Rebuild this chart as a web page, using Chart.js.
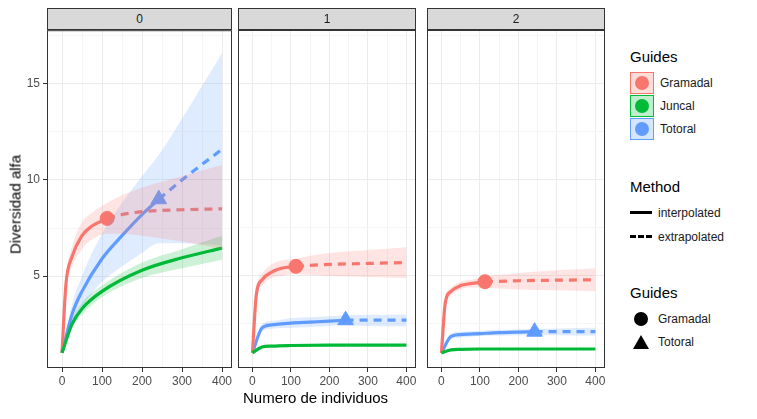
<!DOCTYPE html>
<html>
<head>
<meta charset="utf-8">
<script src="https://cdn.jsdelivr.net/npm/chart.js@4/dist/chart.umd.min.js"></script>
<style>
body{margin:0;background:#fff;font-family:"Liberation Sans",Arial,sans-serif;}
#wrap{position:relative;width:757px;height:419px;}
canvas{position:absolute;}
.strip{position:absolute;top:8px;height:22px;background:#d9d9d9;border:1px solid #333;box-sizing:border-box;
 font-size:12px;color:#1a1a1a;text-align:center;line-height:21px;}
.lab{position:absolute;color:#000;font-weight:normal;}
.leg{position:absolute;left:630px;font-size:12px;color:#1a1a1a;}
.leg h4{margin:0 0 6px 0;font-size:15px;font-weight:normal;color:#000;}
.row{height:23px;display:flex;align-items:center;}
.key{width:22px;height:20px;margin-right:6px;position:relative;}
</style>
</head>
<body>
<div id="wrap">
  <canvas id="p0" style="left:0;top:20px" width="242" height="370"></canvas>
  <canvas id="p1" style="left:228px;top:20px" width="198" height="370"></canvas>
  <canvas id="p2" style="left:417px;top:20px" width="198" height="370"></canvas>
  <div class="strip" style="left:47px;width:185px">0</div>
  <div class="strip" style="left:238px;width:178px">1</div>
  <div class="strip" style="left:427px;width:178px">2</div>
  <div class="lab" style="left:243px;top:389px;font-size:15px">Numero de individuos</div>
  <div class="lab" style="left:-45px;top:196px;font-size:15px;transform:rotate(-90deg);width:120px;text-align:center">Diversidad alfa</div>
  <div class="leg" style="top:48px">
    <h4>Guides</h4>
    <div class="row"><div class="key" style="background:rgba(248,118,109,0.25);border:1px solid #F8766D"><span style="position:absolute;left:4px;top:3px;width:14px;height:14px;border-radius:50%;background:#F8766D"></span></div>Gramadal</div>
    <div class="row"><div class="key" style="background:rgba(0,186,56,0.25);border:1px solid #00BA38"><span style="position:absolute;left:4px;top:3px;width:14px;height:14px;border-radius:50%;background:#00BA38"></span></div>Juncal</div>
    <div class="row"><div class="key" style="background:rgba(97,156,255,0.25);border:1px solid #619CFF"><span style="position:absolute;left:4px;top:3px;width:14px;height:14px;border-radius:50%;background:#619CFF"></span></div>Totoral</div>
  </div>
  <div class="leg" style="top:178px">
    <h4>Method</h4>
    <div class="row" style="height:24px"><div class="key"><span style="position:absolute;left:0;top:8px;width:22px;height:3px;background:#000"></span></div>interpolated</div>
    <div class="row" style="height:24px"><div class="key"><span style="position:absolute;left:0;top:8px;width:22px;height:3px;border-top:3px dashed #000;box-sizing:border-box"></span></div>extrapolated</div>
  </div>
  <div class="leg" style="top:284px">
    <h4>Guides</h4>
    <div class="row"><div class="key"><span style="position:absolute;left:4px;top:3px;width:14px;height:14px;border-radius:50%;background:#000"></span></div>Gramadal</div>
    <div class="row"><div class="key"><span style="position:absolute;left:3px;top:3px;width:0;height:0;border-left:8px solid transparent;border-right:8px solid transparent;border-bottom:14px solid #000"></span></div>Totoral</div>
  </div>
</div>
<script>
// sample sizes
var gramX = [0,10,25,50,75,113,150,200,300,400];   // index 5 = observed
var totoX = [0,25,50,100,150,200,242,300,400];     // index 6 = observed
var juncX = [0,25,50,100,200,300,400];
var gramObs = 5, totoObs = 6;

// estimates per panel
var gramY  = [[1,4.6,6.0,7.1,7.6,8.0,8.2,8.35,8.45,8.5],[1,4.0,4.8,5.2,5.4,5.5,5.55,5.6,5.65,5.7],[1,3.6,4.2,4.5,4.6,4.7,4.72,4.75,4.78,4.8]];
var gramLo = [[1,4.3,5.5,6.4,6.9,7.2,7.2,7.1,6.8,6.4],[1,3.8,4.5,4.9,5.0,5.1,5.05,5.0,4.95,4.9],[1,3.4,4.0,4.3,4.4,4.4,4.35,4.3,4.25,4.2]];
var gramHi = [[1,4.9,6.5,7.8,8.3,8.8,9.2,9.6,10.2,10.8],[1,4.2,5.1,5.6,5.8,5.9,6.05,6.2,6.35,6.5],[1,3.8,4.4,4.7,4.8,4.95,5.05,5.15,5.3,5.4]];
var totoY  = [[1,3.0,4.2,5.9,7.1,8.2,9.0,10.0,11.6],[1,2.3,2.45,2.55,2.6,2.65,2.7,2.7,2.7],[1,1.85,1.95,2.0,2.05,2.08,2.1,2.1,2.1]];
var totoLo = [[1,2.5,3.4,4.7,5.5,6.2,6.7,6.7,6.6],[1,2.1,2.25,2.3,2.35,2.4,2.42,2.4,2.38],[1,1.7,1.8,1.88,1.9,1.92,1.93,1.92,1.9]];
var totoHi = [[1,3.5,5.0,7.2,8.8,10.2,11.3,13.2,16.6],[1,2.5,2.65,2.8,2.85,2.9,2.95,2.98,3.0],[1,2.0,2.1,2.15,2.2,2.22,2.25,2.27,2.3]];
var juncY  = [[1,2.5,3.3,4.2,5.3,5.95,6.45],[1,1.3,1.35,1.38,1.4,1.4,1.4],[1,1.15,1.18,1.2,1.2,1.2,1.2]];
var juncLo = [[1,2.3,3.0,3.9,4.9,5.4,5.85],[1,1.25,1.3,1.33,1.35,1.35,1.35],[1,1.12,1.15,1.17,1.17,1.17,1.17]];
var juncHi = [[1,2.7,3.6,4.5,5.7,6.4,7.1],[1,1.35,1.4,1.43,1.45,1.45,1.45],[1,1.18,1.21,1.23,1.23,1.23,1.23]];

var xTicks = [0,100,200,300,400];
var yTicks = [5,10,15];

var RED = '#F8766D', GREEN = '#00BA38', BLUE = '#619CFF';

function pts(xs, ys, a, b){
  var out = [];
  for (var i = a; i <= b; i++) out.push({x: xs[i], y: ys[i]});
  return out;
}
function fade(c){ return c + '33'; }

function line(data, color, dashed){
  return {type:'line', data:data, borderColor:color, borderWidth:3.2, pointRadius:0, fill:false,
    borderDash: dashed ? [8,6] : [], cubicInterpolationMode:'monotone'};
}
function band(xs, lo, hi, color){
  return [
    {type:'line', data:pts(xs, lo, 0, xs.length-1), borderWidth:0, pointRadius:0, fill:false, cubicInterpolationMode:'monotone'},
    {type:'line', data:pts(xs, hi, 0, xs.length-1), borderWidth:0, pointRadius:0, fill:'-1', backgroundColor:fade(color), cubicInterpolationMode:'monotone'}
  ];
}

var border = {
  id:'border',
  afterDraw: function(c){
    var a = c.chartArea, ctx = c.ctx;
    ctx.save(); ctx.strokeStyle = '#333'; ctx.lineWidth = 1;
    ctx.strokeRect(a.left+0.5, a.top+0.5, a.right-a.left-1, a.bottom-a.top-1);
    ctx.restore();
  }
};

function panel(id, k, showY){
  var ds = [].concat(
    band(gramX, gramLo[k], gramHi[k], RED),
    band(juncX, juncLo[k], juncHi[k], GREEN),
    band(totoX, totoLo[k], totoHi[k], BLUE),
    [line(pts(juncX, juncY[k], 0, juncX.length-1), GREEN, false),
     line(pts(gramX, gramY[k], 0, gramObs), RED, false),
     line(pts(gramX, gramY[k], gramObs, gramX.length-1), RED, true),
     line(pts(totoX, totoY[k], 0, totoObs), BLUE, false),
     line(pts(totoX, totoY[k], totoObs, totoX.length-1), BLUE, true),
     {type:'scatter', data:[{x:gramX[gramObs], y:gramY[k][gramObs]}], pointStyle:'circle', pointRadius:7, backgroundColor:RED, borderColor:RED},
     {type:'scatter', data:[{x:totoX[totoObs], y:totoY[k][totoObs]}], pointStyle:'triangle', pointRadius:9, backgroundColor:BLUE, borderColor:BLUE}]
  );
  var major = function(v, list){ return list.indexOf(v) >= 0; };
  new Chart(document.getElementById(id), {
    type:'line',
    data:{datasets:ds},
    plugins:[border],
    options:{
      responsive:false, animation:false, events:[],
      layout:{padding:0},
      plugins:{legend:{display:false}, tooltip:{enabled:false}},
      scales:{
        x:{type:'linear', min:-37.5, max:425,
          afterFit:function(s){ s.height = 22; },
          afterBuildTicks:function(s){ var t=[]; for (var v=0; v<=400; v+=50) t.push({value:v}); s.ticks=t; },
          ticks:{autoSkip:false, maxRotation:0, color:'#4d4d4d', font:{size:12, family:'Liberation Sans'}, padding:2,
            callback:function(v){ return major(v, xTicks) ? v : ''; }},
          grid:{color:function(c){ return c.tick && major(c.tick.value, xTicks) ? '#ebebeb' : '#f5f5f5'; },
            tickColor:function(c){ return c.tick && major(c.tick.value, xTicks) ? '#333' : 'rgba(0,0,0,0)'; },
            tickLength:4},
          border:{display:false}},
        y:{type:'linear', min:0.21, max:17.8,
          afterFit:function(s){ s.width = showY ? 47 : 0; },
          afterBuildTicks:function(s){ var t=[]; for (var v=2.5; v<=17.5; v+=2.5) t.push({value:v}); s.ticks=t; },
          ticks:{display:showY, autoSkip:false, color:'#4d4d4d', font:{size:12, family:'Liberation Sans'}, padding:3,
            callback:function(v){ return major(v, yTicks) ? v : ''; }},
          grid:{color:function(c){ return c.tick && major(c.tick.value, yTicks) ? '#ebebeb' : '#f5f5f5'; },
            drawTicks:showY,
            tickColor:function(c){ return c.tick && major(c.tick.value, yTicks) ? '#333' : 'rgba(0,0,0,0)'; },
            tickLength:4},
          border:{display:false}}
      }
    }
  });
}

panel('p0', 0, true);
panel('p1', 1, false);
panel('p2', 2, false);
</script>
</body>
</html>
